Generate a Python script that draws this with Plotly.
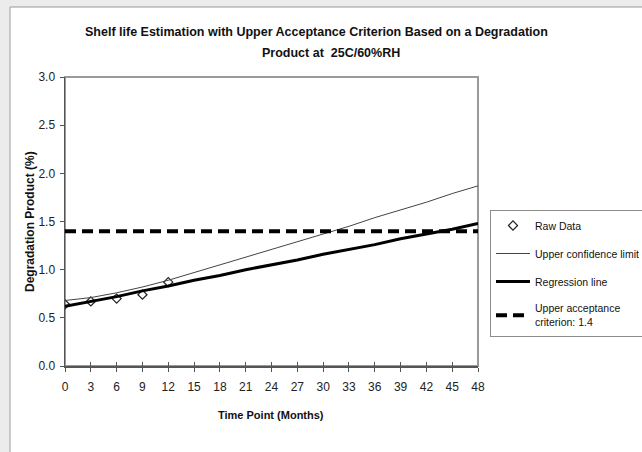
import plotly.graph_objects as go

# ---- data ----
raw_months = [0, 3, 6, 9, 12]
raw_values = [0.64, 0.67, 0.70, 0.74, 0.87]

line_months = [0, 3, 6, 9, 12, 15, 18, 21, 24, 27, 30, 33, 36, 39, 42, 45, 48]
ucl_values = [0.68, 0.71, 0.76, 0.82, 0.89, 0.97, 1.05, 1.13, 1.21, 1.29, 1.37,
              1.45, 1.54, 1.62, 1.70, 1.79, 1.87]
reg_values = [0.62, 0.67, 0.72, 0.78, 0.83, 0.89, 0.94, 1.00, 1.05, 1.10, 1.16,
              1.21, 1.26, 1.32, 1.37, 1.42, 1.48]

criterion_months = [0, 48]
criterion_values = [1.4, 1.4]

x_ticks = list(range(0, 49, 3))
y_ticks = [0.0, 0.5, 1.0, 1.5, 2.0, 2.5, 3.0]

NARROW = "Liberation Sans Narrow, Arial Narrow, Liberation Sans, Arial, sans-serif"
ARIAL = "Liberation Sans, Arial, sans-serif"

W, H = 642, 452
L, R, T, B = 65, 478, 77, 366  # plot area in pixels


def px(x):
    return (x - L) / (R - L)


def py(y):
    return (B - y) / (B - T)


fig = go.Figure()

fig.add_trace(go.Scatter(
    x=raw_months, y=raw_values, mode="markers", name="Raw Data",
    legendgroup="a",
    marker=dict(symbol="diamond-open", size=7, color="#222222",
                line=dict(width=1.2, color="#222222")),
))
fig.add_trace(go.Scatter(
    x=line_months, y=ucl_values, mode="lines", name="Upper confidence limit",
    legendgroup="b",
    line=dict(color="#444444", width=1),
))
fig.add_trace(go.Scatter(
    x=line_months, y=reg_values, mode="lines", name="Regression line",
    legendgroup="c",
    line=dict(color="#000000", width=3),
))
fig.add_trace(go.Scatter(
    x=criterion_months, y=criterion_values, mode="lines",
    name="Upper acceptance<br>criterion: 1.4",
    legendgroup="d",
    line=dict(color="#000000", width=4, dash="11px,6px"),
))

# secondary x axis for crossing tick marks
fig.add_trace(go.Scatter(x=[0], y=[0], xaxis="x2", mode="markers",
                         marker=dict(opacity=0), showlegend=False,
                         hoverinfo="skip"))

fig.update_layout(
    width=W, height=H,
    margin=dict(l=L, r=W - R, t=T, b=H - B, autoexpand=False),
    paper_bgcolor="#ececec",
    plot_bgcolor="white",
    showlegend=True,
    legend=dict(
        x=px(490), y=py(210), xanchor="left", yanchor="top",
        bordercolor="#8c8c8c", borderwidth=1, bgcolor="white",
        font=dict(family=NARROW, size=10.5, color="#111111"),
        itemwidth=34, traceorder="grouped", tracegroupgap=9,
    ),
    xaxis=dict(
        range=[0, 48], tickmode="array", tickvals=x_ticks,
        ticktext=[str(v) for v in x_ticks],
        showgrid=False, zeroline=False,
        showline=True, linecolor="#555555", linewidth=1.5,
        ticks="outside", ticklen=4, tickcolor="#555555", tickwidth=1,
        ticklabelstandoff=5,
        tickfont=dict(family=NARROW, size=12, color="#222222"),
        fixedrange=True,
    ),
    xaxis2=dict(
        range=[0, 48], overlaying="x", anchor="y", side="bottom",
        tickmode="array", tickvals=x_ticks, showticklabels=False,
        ticks="inside", ticklen=4, tickcolor="#555555", tickwidth=1,
        showgrid=False, zeroline=False, showline=False,
    ),
    yaxis=dict(
        range=[0, 3.0], tickmode="array", tickvals=y_ticks,
        ticktext=["%.1f" % v for v in y_ticks],
        showgrid=False, zeroline=False,
        showline=True, linecolor="#555555", linewidth=1.5,
        ticks="outside", ticklen=4, tickcolor="#555555", tickwidth=1,
        ticklabelstandoff=2,
        tickfont=dict(family=NARROW, size=12, color="#222222"),
        fixedrange=True,
    ),
    shapes=[
        dict(type="rect", xref="paper", yref="paper", layer="below",
             x0=px(10), y0=py(470), x1=px(700), y1=py(7),
             fillcolor="white", line=dict(color="#9a9a9a", width=1)),
        dict(type="rect", xref="paper", yref="paper", layer="below",
             x0=0, y0=0, x1=1, y1=1,
             line=dict(color="#9a9a9a", width=2)),
    ],
    annotations=[
        dict(text="<b>Shelf life Estimation with Upper Acceptance Criterion Based on a Degradation</b>",
             xref="paper", yref="paper", x=px(316), y=py(32),
             xanchor="center", yanchor="middle", showarrow=False,
             font=dict(family=NARROW, size=12.5, color="#111111")),
        dict(text="<b>Product at  25C/60%RH</b>",
             xref="paper", yref="paper", x=px(331), y=py(53),
             xanchor="center", yanchor="middle", showarrow=False,
             font=dict(family=NARROW, size=12.5, color="#111111")),
        dict(text="<b>Degradation Product (%)</b>",
             xref="paper", yref="paper", x=px(30), y=py(222),
             xanchor="center", yanchor="middle", showarrow=False,
             textangle=-90,
             font=dict(family=ARIAL, size=12, color="#111111")),
        dict(text="<b>Time Point (Months)</b>",
             xref="paper", yref="paper", x=px(271), y=py(415),
             xanchor="center", yanchor="middle", showarrow=False,
             font=dict(family=NARROW, size=11, color="#111111")),
    ],
)

fig.write_html(
    "out.html",
    config={"displayModeBar": False, "staticPlot": True},
    post_script="document.body.style.margin='0';document.body.style.padding='0';",
)
